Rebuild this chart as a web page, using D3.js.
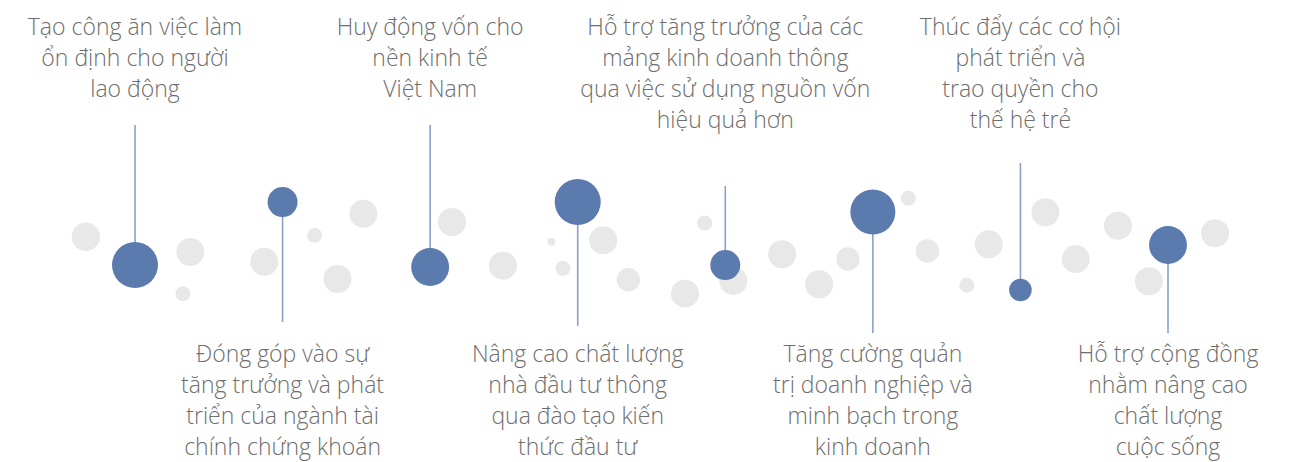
<!DOCTYPE html>
<html>
<head>
<meta charset="utf-8">
<script src="https://cdn.jsdelivr.net/npm/d3@7"></script>
<style>
  body { margin: 0; background: #fff; }
  svg { display: block; }
</style>
</head>
<body>
<div id="chart"></div>
<script>
// labels, one array of lines per item
var labels = [
  ["Tạo công ăn việc làm", "ổn định cho người", "lao động"],
  ["Đóng góp vào sự", "tăng trưởng và phát", "triển của ngành tài", "chính chứng khoán"],
  ["Huy động vốn cho", "nền kinh tế", "Việt Nam"],
  ["Nâng cao chất lượng", "nhà đầu tư thông", "qua đào tạo kiến", "thức đầu tư"],
  ["Hỗ trợ tăng trưởng của các", "mảng kinh doanh thông", "qua việc sử dụng nguồn vốn", "hiệu quả hơn"],
  ["Tăng cường quản", "trị doanh nghiệp và", "minh bạch trong", "kinh doanh"],
  ["Thúc đẩy các cơ hội", "phát triển và", "trao quyền cho", "thế hệ trẻ"],
  ["Hỗ trợ cộng đồng", "nhằm nâng cao", "chất lượng", "cuộc sống"]
];
var sides = ["top", "bottom", "top", "bottom", "top", "bottom", "top", "bottom"];

// blue bubbles: height, size, and where the stem ends
var blueLevel = [4.33, 8.53, 4.2, 8.53, 4.33, 7.87, 2.67, 5.67];
var blueSize = [100, 42.5, 68, 100, 42.5, 96, 24, 68];
var stemEnd = [13.67, 0.53, 13.67, 0.27, 9.6, -0.2, 11.13, -0.2];

// grey background bubbles: position (in item units), height, size
var greyPos = [-0.333, 0.375, 0.325, 0.876, 1.217, 1.372, 1.547, 2.148, 2.493, 2.821, 2.90, 3.173, 3.343, 3.727,
  3.860, 4.054, 4.385, 4.636, 4.831, 5.240, 5.370, 5.636, 5.785, 6.169, 6.375, 6.661, 6.870, 7.319];
var greyLevel = [6.22, 5.2, 2.42, 4.55, 6.31, 3.4, 7.75, 7.2, 4.29, 5.89, 4.11, 5.98, 3.35, 2.42,
  7.13, 3.27, 5.05, 3.05, 4.73, 8.78, 5.27, 2.98, 5.71, 7.85, 4.73, 6.95, 3.25, 6.45];
var greySize = [38, 37, 10.6, 37, 10.6, 37, 37, 37, 37, 3, 10.6, 37, 26, 37,
  10.6, 37, 37, 37, 26, 10.6, 26, 10.6, 37, 37, 37, 37, 37, 37];

var width = 1293, height = 462;

var svg = d3.select("#chart")
  .append("svg")
  .attr("width", width)
  .attr("height", height);

var x = d3.scaleLinear().domain([0, 7]).range([135, 1168]);
var y = d3.scaleLinear().domain([0, 10]).range([330, 180]);
var r = d3.scaleSqrt().domain([0, 100]).range([0, 23]);

var items = labels.map(function(d, i) {
  return { lines: d, side: sides[i], i: i, level: blueLevel[i], size: blueSize[i], end: stemEnd[i] };
});
var greys = greyPos.map(function(d, i) {
  return { pos: d, level: greyLevel[i], size: greySize[i] };
});

// grey bubbles
svg.append("g")
  .selectAll("circle")
  .data(greys)
  .enter()
  .append("circle")
  .attr("cx", d => x(d.pos))
  .attr("cy", d => y(d.level))
  .attr("r", d => r(d.size))
  .style("fill", "#e8e8e8");

// stems
svg.append("g")
  .selectAll("line")
  .data(items)
  .enter()
  .append("line")
  .attr("x1", d => x(d.i))
  .attr("x2", d => x(d.i))
  .attr("y1", d => y(d.end))
  .attr("y2", d => y(d.level))
  .style("stroke", "#8aa0cb")
  .style("stroke-width", 1.6);

// blue bubbles
svg.append("g")
  .selectAll("circle")
  .data(items)
  .enter()
  .append("circle")
  .attr("cx", d => x(d.i))
  .attr("cy", d => y(d.level))
  .attr("r", d => r(d.size))
  .style("fill", "#5b7aad");

// labels
var text = svg.append("g")
  .selectAll("text")
  .data(items)
  .enter()
  .append("text")
  .attr("text-anchor", "middle")
  .attr("y", d => d.side === "top" ? 35 : 362)
  .style("font-family", "'Open Sans', 'Noto Sans', sans-serif")
  .style("font-weight", 300)
  .style("font-size", "23px")
  .style("fill", "#6e6e6e");

text.selectAll("tspan")
  .data(d => d.lines.map(function(l) { return { t: l, x: x(d.i) }; }))
  .enter()
  .append("tspan")
  .attr("x", d => d.x)
  .attr("dy", (d, k) => k === 0 ? 0 : 31)
  .text(d => d.t);
</script>
</body>
</html>
